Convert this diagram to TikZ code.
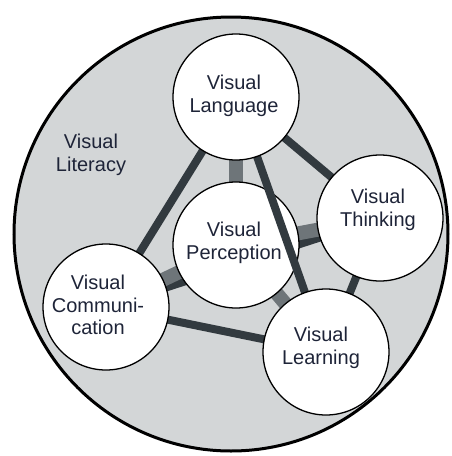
\documentclass[tikz,border=0pt]{standalone}
\usepackage{fontspec}
\setmainfont{Liberation Sans}
\definecolor{bgray}{HTML}{D3D6D7}
\definecolor{dline}{HTML}{323A3F}
\definecolor{gline}{HTML}{6E7579}
\definecolor{txt}{HTML}{1E2438}
\tikzset{
  bubble/.style={circle, draw=black, line width=1.3pt, fill=white, minimum size=126pt, inner sep=0pt},
  lbl/.style={align=center, text=txt, inner sep=0pt, font=\fontsize{20}{22.5}\selectfont},
  darkline/.style={draw=dline, line width=8pt},
  grayline/.style={draw=gline, line width=14pt},
}
\begin{document}
\begin{tikzpicture}[x=1pt,y=-1pt]
\useasboundingbox (0,0) rectangle (451,456);
% outer circle
\node[circle, draw=black, line width=3pt, fill=bgray, minimum size=434pt, inner sep=0pt] (lit) at (231,234) {};
% coordinates of circle centres
\coordinate (cL) at (236,97);
\coordinate (cP) at (236,245);
\coordinate (cT) at (380,218);
\coordinate (cC) at (106,307);
\coordinate (cE) at (326,352);
% lines behind perception
\draw[darkline] (cC) -- (cT);
\draw[grayline] (cP) -- (cL);
\draw[grayline] (cP) -- (cT);
\draw[grayline] (cP) -- (cC);
\draw[grayline] (cP) -- (cE);
\node[bubble] (perc) at (cP) {};
% lines in front of perception
\draw[darkline] (cL) -- (cC);
\draw[darkline] (cL) -- (cT);
\draw[darkline] (cL) -- (cE);
\draw[darkline] (cT) -- (cE);
\draw[darkline] (cC) -- (cE);
% other circles
\node[bubble] (lang) at (cL) {};
\node[bubble] (think) at (cT) {};
\node[bubble] (comm) at (cC) {};
\node[bubble] (learn) at (cE) {};
% texts
\node[lbl] (tlit) at (91,155) {Visual\\Literacy};
\node[lbl] (tlang) at (234,96) {Visual\\Language};
\node[lbl] (tperc) at (234,243) {Visual\\Perception};
\node[lbl] (tthink) at (378,210) {Visual\\Thinking};
\node[lbl] (tcomm) at (98,305) {Visual\\Communi-\\cation};
\node[lbl] (tlearn) at (321,348) {Visual\\Learning};
\end{tikzpicture}
\end{document}
